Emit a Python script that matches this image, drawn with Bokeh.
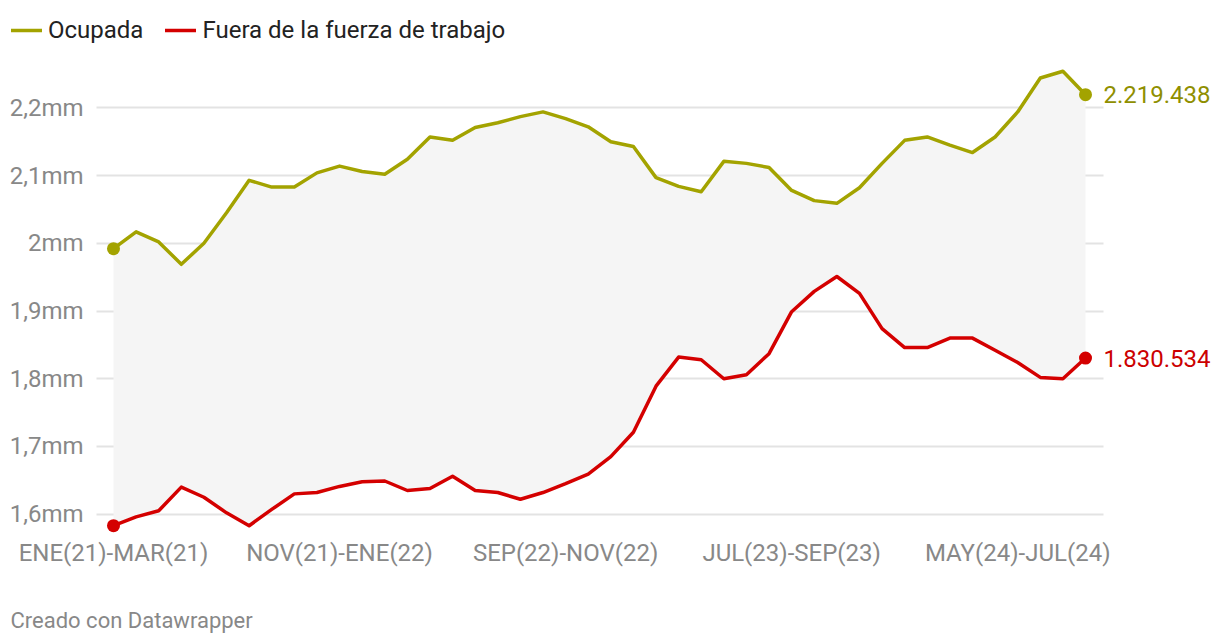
from bokeh.plotting import figure
from bokeh.models import Range1d, FixedTicker, Legend, LegendItem, Label
from bokeh.embed import file_html
from bokeh.resources import INLINE

# Data (thousands of persons), rolling quarters from ENE-MAR 2021 to AGO-OCT 2024
ocupada = [1992, 2017, 2002, 1969, 2000, 2045, 2093, 2083, 2083, 2104,
           2114, 2106, 2102, 2124, 2157, 2152, 2171, 2178, 2187, 2194,
           2184, 2172, 2150, 2143, 2097, 2084, 2076, 2121, 2118, 2112,
           2078, 2063, 2059, 2082, 2118, 2152, 2157, 2145, 2134, 2157,
           2194, 2244, 2254, 2219.438]
fuera = [1583, 1596, 1605, 1640, 1625, 1602, 1583, 1607, 1630, 1632,
         1641, 1648, 1649, 1635, 1638, 1656, 1635, 1632, 1622, 1632,
         1645, 1659, 1685, 1721, 1789, 1832, 1828, 1800, 1806, 1837,
         1899, 1929, 1951, 1926, 1874, 1846, 1846, 1860, 1860, 1842,
         1824, 1802, 1800, 1830.534]
x_idx = list(range(len(ocupada)))
tick_positions = [0, 10, 20, 30, 40]
tick_labels = ["ENE(21)-MAR(21)", "NOV(21)-ENE(22)", "SEP(22)-NOV(22)",
               "JUL(23)-SEP(23)", "MAY(24)-JUL(24)"]
y_ticks = [1600, 1700, 1800, 1900, 2000, 2100, 2200]
y_tick_labels = ["1,6mm", "1,7mm", "1,8mm", "1,9mm", "2mm", "2,1mm", "2,2mm"]
series_names = ["Ocupada", "Fuera de la fuerza de trabajo"]
credit = "Creado con Datawrapper"

GREEN = "#a3a300"
GREEN_TXT = "#8f8f00"
RED = "#d40000"
RED_TXT = "#cc0000"
FONT = "Roboto"
W, H = 1216, 640

# visible ranges: the frame covers the whole figure
XR = (-4.999, 48.795)
YR = (1413.5, 2358.5)
# plotting-area edges (where the gridlines / axes sit)
AX_X0, AX_X1 = -0.752, 43.796
AX_Y0 = 1568.6

p = figure(width=W, height=H, output_backend="svg", toolbar_location=None,
           x_range=Range1d(*XR), y_range=Range1d(*YR),
           min_border_left=0, min_border_right=0, min_border_top=0,
           min_border_bottom=0)
p.outline_line_color = None
p.background_fill_color = "white"
p.border_fill_color = "white"

# grid
p.xgrid.grid_line_color = None
p.ygrid.ticker = FixedTicker(ticks=y_ticks)
p.ygrid.grid_line_color = "#e3e3e3"
p.ygrid.grid_line_width = 2
try:
    p.ygrid.cross_bounds = (AX_X0, AX_X1)
except Exception:
    p.ygrid.grid_line_color = None
    p.segment(x0=[AX_X0] * len(y_ticks), x1=[AX_X1] * len(y_ticks), y0=y_ticks,
              y1=y_ticks, line_color="#e3e3e3", line_width=2)

# axes, pinned to the plotting-area edges (take no border space)
p.yaxis.ticker = FixedTicker(ticks=y_ticks)
p.yaxis.major_label_overrides = {t: l for t, l in zip(y_ticks, y_tick_labels)}
p.xaxis.ticker = FixedTicker(ticks=tick_positions)
p.xaxis.major_label_overrides = {t: l for t, l in zip(tick_positions, tick_labels)}
p.yaxis.fixed_location = AX_X0
p.xaxis.fixed_location = AX_Y0
for ax in (p.xaxis[0], p.yaxis[0]):
    ax.axis_line_color = None
    ax.major_tick_line_color = None
    ax.minor_tick_line_color = None
    ax.major_tick_out = 0
    ax.major_tick_in = 0
    ax.major_label_text_font = FONT
    ax.major_label_text_font_size = "24px"
    ax.major_label_text_color = "#888888"
p.yaxis.major_label_standoff = 13
p.xaxis.major_label_standoff = 4

# area between lines
p.varea(x=x_idx, y1=fuera, y2=ocupada, fill_color="#f5f5f5")

r_oc = p.line(x_idx, ocupada, line_color=GREEN, line_width=3.5, line_join="round",
              line_cap="round")
r_fu = p.line(x_idx, fuera, line_color=RED, line_width=3.5, line_join="round",
              line_cap="round")

ends = [0, len(ocupada) - 1]
p.scatter([x_idx[i] for i in ends], [ocupada[i] for i in ends], size=13,
          fill_color=GREEN, line_color=None)
p.scatter([x_idx[i] for i in ends], [fuera[i] for i in ends], size=13,
          fill_color=RED, line_color=None)


def fmt(v):
    return f"{int(round(v * 1000)):,}".replace(",", ".")


p.add_layout(Label(x=x_idx[-1], y=ocupada[-1], text=fmt(ocupada[-1]), x_offset=18,
                   text_baseline="middle", text_font=FONT, text_font_size="24px",
                   text_color=GREEN_TXT))
p.add_layout(Label(x=x_idx[-1], y=fuera[-1], text=fmt(fuera[-1]), x_offset=18,
                   text_baseline="middle", text_font=FONT, text_font_size="24px",
                   text_color=RED_TXT))

# legend (top-left)
legend = Legend(items=[LegendItem(label=series_names[0], renderers=[r_oc]),
                       LegendItem(label=series_names[1], renderers=[r_fu])],
                orientation="horizontal", location=(11, 596),
                padding=0, margin=0, spacing=22, glyph_width=31, glyph_height=20,
                label_standoff=6, label_text_font=FONT, label_text_font_size="24px",
                label_text_color="#222222", border_line_color=None,
                background_fill_alpha=0)
p.add_layout(legend)

# credit (bottom-left)
p.add_layout(Label(x=10, y=20, x_units="screen", y_units="screen", text=credit,
                   text_baseline="middle", text_font=FONT, text_font_size="22px",
                   text_color="#888888"))

open("out.html", "w").write(file_html(p, INLINE))
